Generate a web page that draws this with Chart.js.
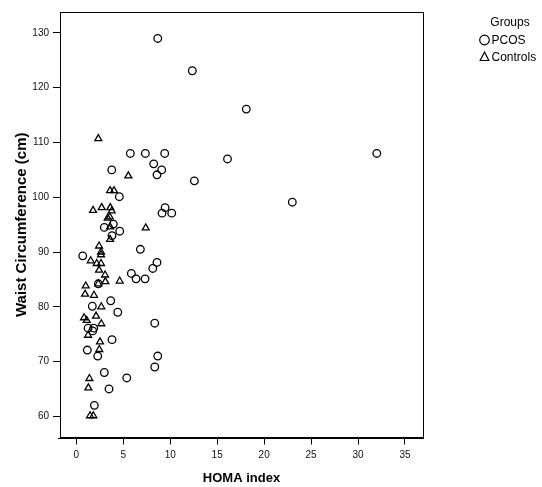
<!DOCTYPE html>
<html>
<head>
<meta charset="utf-8">
<title>HOMA index vs Waist Circumference</title>
<script src="https://cdn.jsdelivr.net/npm/chart.js@4/dist/chart.umd.min.js"></script>
<style>
    body { margin: 0; background: #fff; }
    canvas { display: block; }
</style>
</head>
<body>
<canvas id="canvas" width="542" height="487"></canvas>
<script>
// PCOS group (circles)
let pcosHoma = [8.67, 12.35, 18.1, 5.75, 7.35, 9.41, 32.0, 16.1, 8.24, 3.77, 9.09, 8.59, 12.57, 4.58, 23.0,
    9.45, 9.13, 10.16, 3.94, 2.98, 4.62, 3.80, 6.82, 0.68, 8.59, 8.14, 5.86, 6.36, 7.32, 2.34,
    3.66, 1.70, 4.41, 8.35, 1.25, 1.85, 1.74, 3.80, 1.17, 2.28, 8.67, 8.35, 2.98, 5.37, 3.48, 1.92];
let pcosWaist = [129.0, 123.1, 116.1, 108.0, 108.0, 108.0, 108.0, 107.0, 106.1, 105.0, 105.0, 104.1, 103.0, 100.1, 99.1,
    98.1, 97.1, 97.1, 95.1, 94.5, 93.8, 93.0, 90.5, 89.3, 88.1, 87.0, 86.1, 85.1, 85.1, 84.2,
    81.1, 80.1, 79.0, 77.0, 76.1, 76.1, 75.6, 74.0, 72.1, 71.0, 71.0, 69.0, 68.0, 67.0, 65.0, 62.0];

// Controls group (triangles)
let controlsHoma = [2.34, 5.54, 3.59, 4.01, 1.78, 2.70, 3.62, 3.77, 3.34, 3.56, 3.59, 7.39, 3.59, 2.42, 2.63,
    2.63, 1.53, 2.17, 2.63, 2.42, 3.06, 3.09, 2.34, 4.62, 1.00, 0.93, 1.88, 2.66, 2.10, 0.82,
    1.11, 2.66, 1.25, 2.52, 2.45, 1.39, 1.28, 1.46, 1.81];
let controlsWaist = [110.7, 103.9, 101.2, 101.2, 97.6, 98.1, 98.1, 97.5, 96.2, 96.4, 94.6, 94.4, 92.3, 91.1, 90.0,
    89.5, 88.4, 87.9, 87.9, 86.7, 85.8, 84.6, 84.2, 84.7, 83.8, 82.3, 82.1, 80.0, 78.3, 78.0,
    77.5, 76.9, 74.8, 73.6, 72.2, 66.9, 65.2, 60.1, 60.1];

// tick labels
let xTicks = [0, 5, 10, 15, 20, 25, 30, 35];
let yTicks = [60, 70, 80, 90, 100, 110, 120, 130];

let groupNames = ['PCOS', 'Controls'];

let fontFamily = '"Liberation Sans", Arial, Helvetica, sans-serif';

function toPoints(xs, ys) {
    return xs.map(function(x, i) {
        return { x: x, y: ys[i] };
    });
}

// box round the plot area
let framePlugin = {
    id: 'frame',
    afterDraw: function(chart) {
        let a = chart.chartArea;
        let ctx = chart.ctx;
        ctx.save();
        ctx.strokeStyle = '#000';
        ctx.lineWidth = 1;
        ctx.strokeRect(Math.round(a.left) + 0.5, Math.round(a.top) + 0.5,
            Math.round(a.right - a.left), Math.round(a.bottom - a.top));
        // x axis line runs a bit past the y axis, like in SPSS
        ctx.beginPath();
        ctx.moveTo(Math.round(a.left) - 2, Math.round(a.bottom) + 0.5);
        ctx.lineTo(Math.round(a.left), Math.round(a.bottom) + 0.5);
        ctx.stroke();
        ctx.restore();
    }
};

// legend on the right, SPSS style
let groupsLegend = {
    id: 'groupsLegend',
    afterDraw: function(chart) {
        let ctx = chart.ctx;
        ctx.save();
        ctx.fillStyle = '#000';
        ctx.strokeStyle = '#000';
        ctx.font = '12px ' + fontFamily;
        ctx.textBaseline = 'middle';
        ctx.textAlign = 'center';
        ctx.fillText('Groups', 510, 23);

        ctx.textAlign = 'left';
        chart.data.datasets.forEach(function(ds, i) {
            let cx = 484.5;
            let cy = 40 + i * 17;
            ctx.lineWidth = 1.2;
            ctx.beginPath();
            if (ds.pointStyle === 'triangle') {
                let r = 5;
                ctx.moveTo(cx, cy - r);
                ctx.lineTo(cx + r * 0.866, cy + r * 0.5 + 1);
                ctx.lineTo(cx - r * 0.866, cy + r * 0.5 + 1);
                ctx.closePath();
            } else {
                ctx.arc(cx, cy, 4.8, 0, Math.PI * 2);
            }
            ctx.stroke();
            ctx.fillText(ds.label, 491.5, cy + 0.5);
        });
        ctx.restore();
    }
};

let ctx = document.getElementById('canvas').getContext('2d');

let config = {
    type: 'scatter',
    data: {
        datasets: [{
            label: groupNames[0],
            data: toPoints(pcosHoma, pcosWaist),
            pointStyle: 'circle',
            pointRadius: 3.8,
            pointHoverRadius: 3.8,
            borderWidth: 1.3,
            borderColor: '#000',
            backgroundColor: 'rgba(0,0,0,0)'
        }, {
            label: groupNames[1],
            data: toPoints(controlsHoma, controlsWaist),
            pointStyle: 'triangle',
            pointRadius: 4,
            pointHoverRadius: 4,
            borderWidth: 1.3,
            borderColor: '#000',
            backgroundColor: 'rgba(0,0,0,0)'
        }]
    },
    options: {
        responsive: false,
        animation: false,
        layout: {
            padding: { top: 12, right: 119, left: 0, bottom: 0 }
        },
        plugins: {
            legend: { display: false },
            tooltip: { enabled: false }
        },
        scales: {
            x: {
                type: 'linear',
                min: -1.74,
                max: 36.92,
                afterBuildTicks: function(scale) {
                    scale.ticks = xTicks.map(function(v) { return { value: v }; });
                },
                afterFit: function(scale) {
                    scale.height = 49.5;
                },
                grid: {
                    display: true,
                    drawOnChartArea: false,
                    drawTicks: true,
                    tickLength: 7,
                    color: '#000'
                },
                border: { display: true, color: '#000', width: 1 },
                ticks: {
                    padding: 5,
                    color: '#111',
                    maxRotation: 0,
                    font: { family: fontFamily, size: 10 }
                },
                title: {
                    display: true,
                    text: 'HOMA index',
                    color: '#000',
                    padding: { top: 0, bottom: 1 },
                    font: { family: fontFamily, size: 13, weight: 'bold' }
                }
            },
            y: {
                type: 'linear',
                min: 56.13,
                max: 133.83,
                afterBuildTicks: function(scale) {
                    scale.ticks = yTicks.map(function(v) { return { value: v }; });
                },
                afterFit: function(scale) {
                    scale.width = 60;
                },
                grid: {
                    display: true,
                    drawOnChartArea: false,
                    drawTicks: true,
                    tickLength: 7,
                    color: '#000'
                },
                border: { display: true, color: '#000', width: 1 },
                ticks: {
                    padding: 4,
                    color: '#111',
                    font: { family: fontFamily, size: 10 }
                },
                title: {
                    display: true,
                    text: 'Waist Circumference (cm)',
                    color: '#000',
                    padding: { top: 13, bottom: 0 },
                    font: { family: fontFamily, size: 15, weight: 'bold' }
                }
            }
        }
    },
    plugins: [framePlugin, groupsLegend]
};

let chart = new Chart(ctx, config);
</script>
</body>
</html>
